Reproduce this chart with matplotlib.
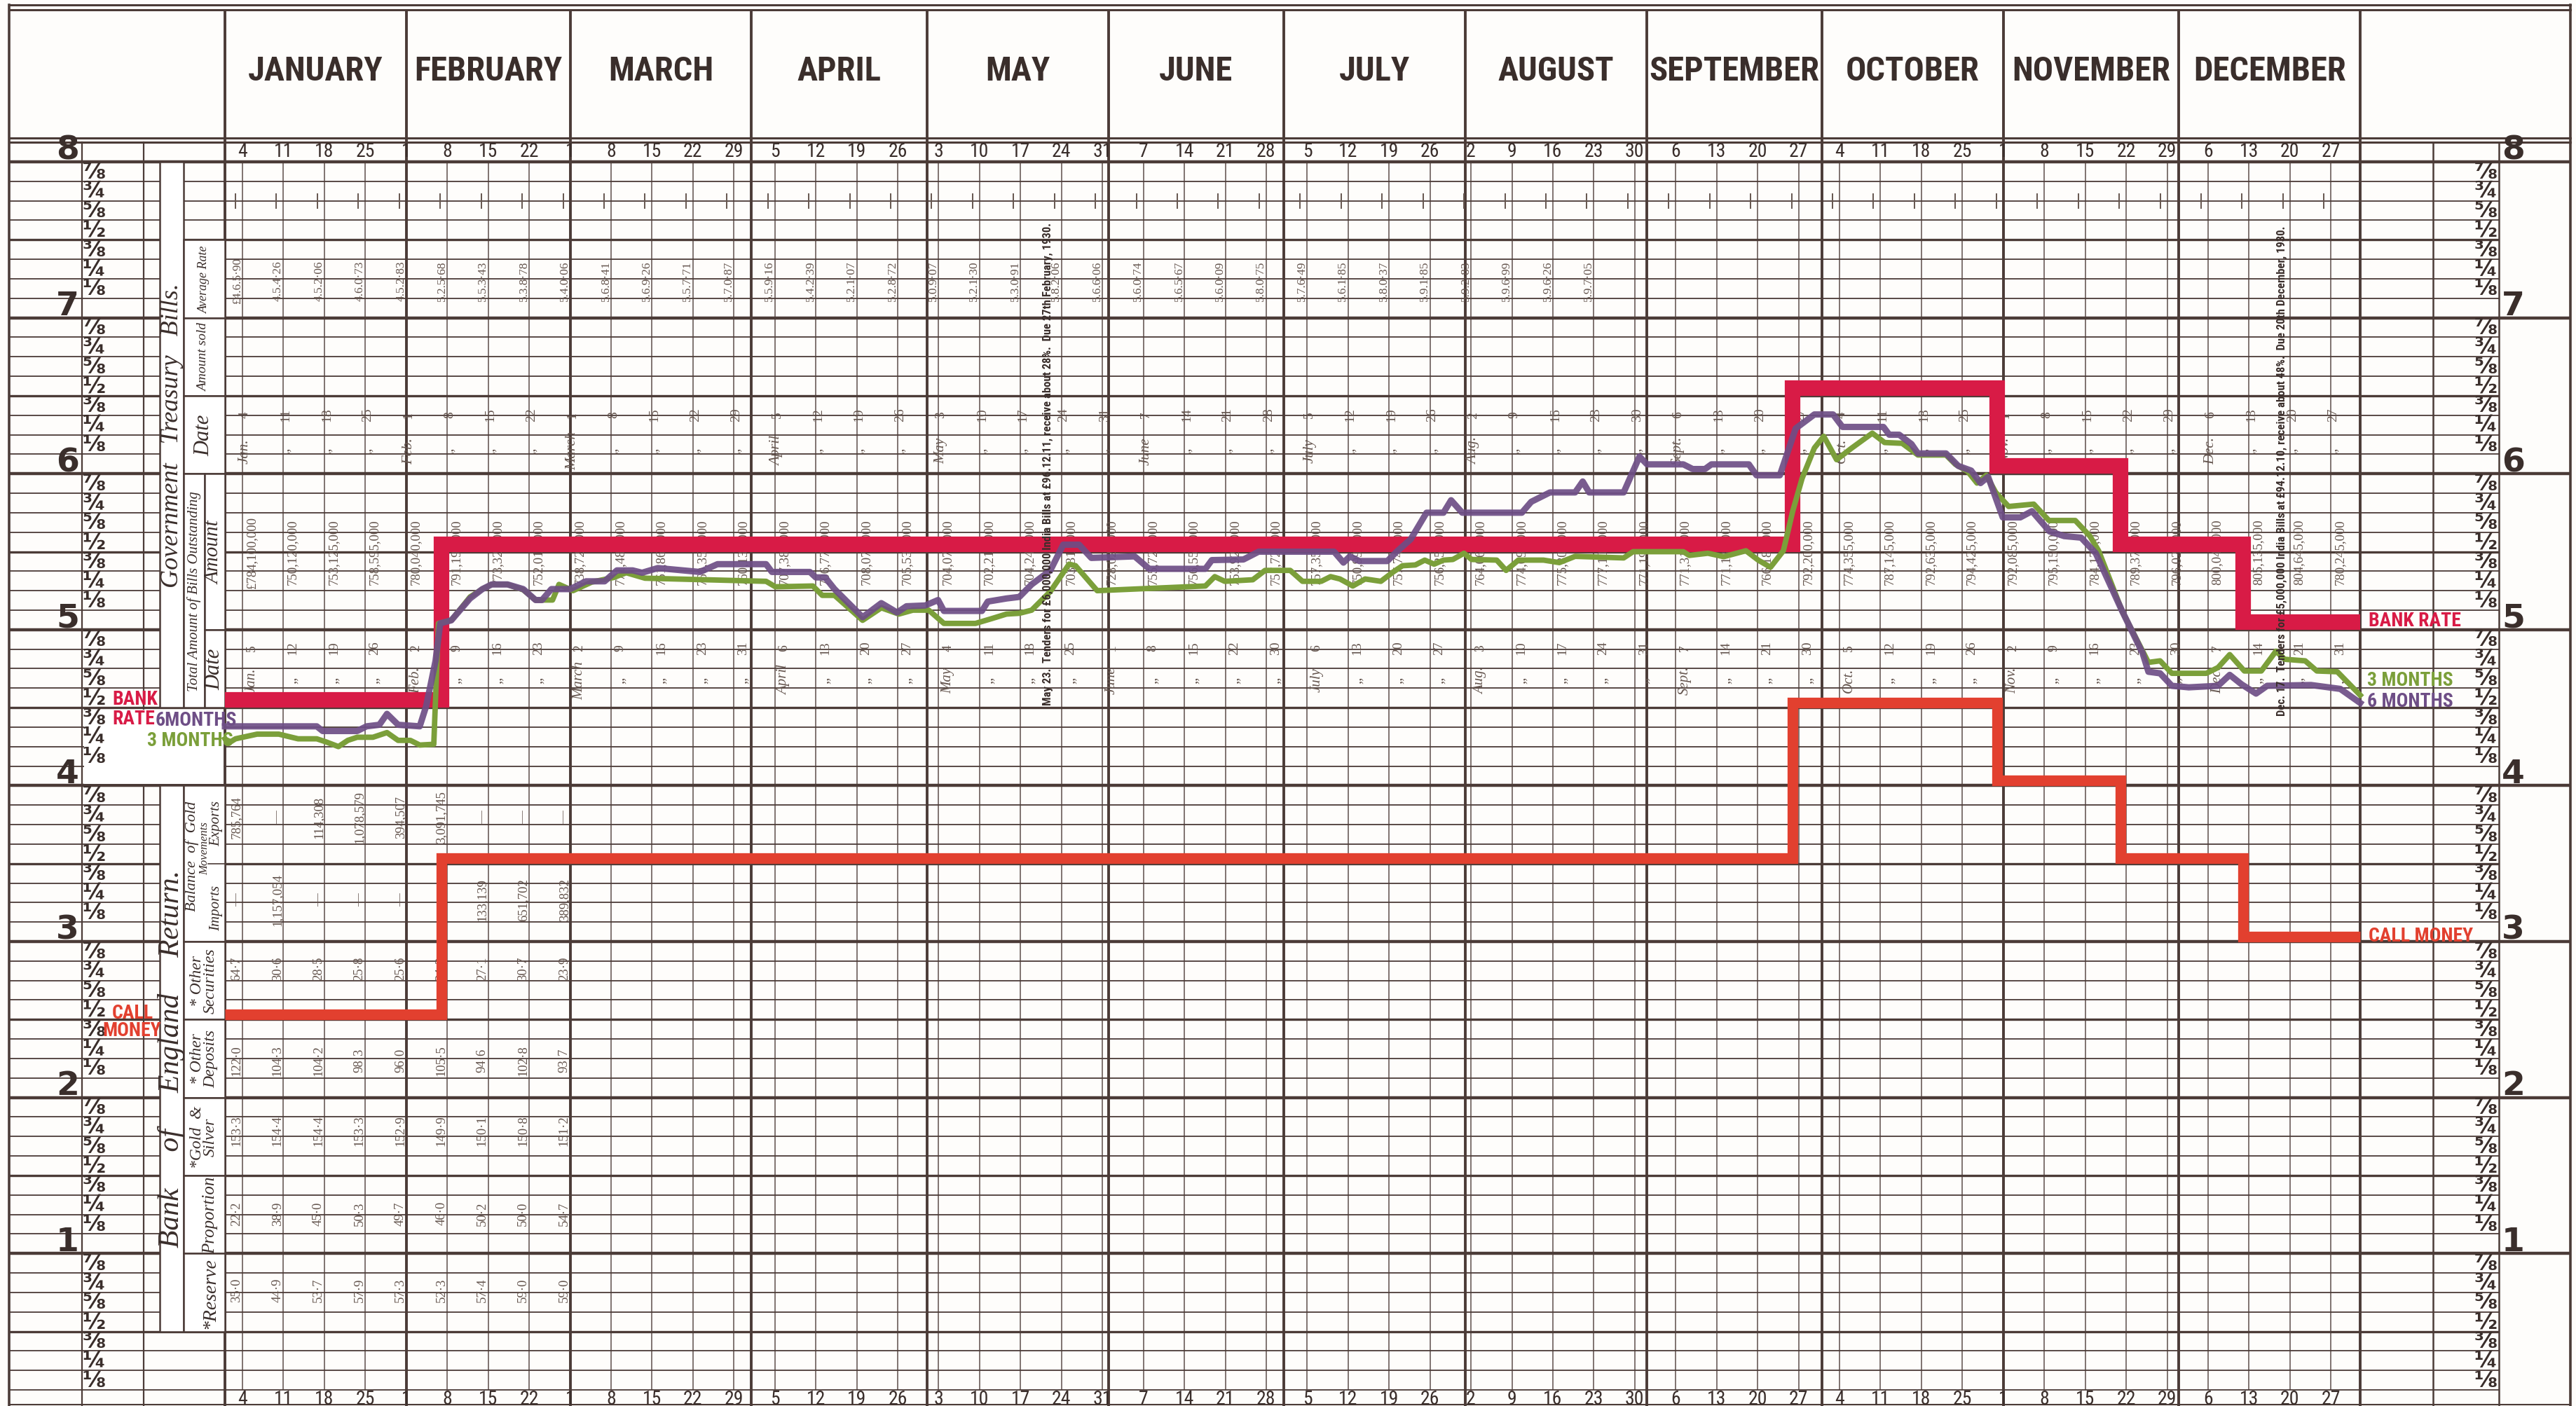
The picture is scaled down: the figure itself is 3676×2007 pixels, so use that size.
import numpy as np
import matplotlib
matplotlib.use('Agg')
import matplotlib.pyplot as plt
import matplotlib.transforms as mtransforms
from matplotlib.patches import Rectangle
from matplotlib import font_manager

# ---------------- data ----------------
months = ['JANUARY', 'FEBRUARY', 'MARCH', 'APRIL', 'MAY', 'JUNE', 'JULY',
          'AUGUST', 'SEPTEMBER', 'OCTOBER', 'NOVEMBER', 'DECEMBER']
month_start = [0, 31, 59, 90, 120, 151, 181, 212, 243, 273, 304, 334, 365]

# friday columns (day of month)
fri_labels = [4, 11, 18, 25, 1, 8, 15, 22, 1, 8, 15, 22, 29, 5, 12, 19, 26,
              3, 10, 17, 24, 31, 7, 14, 21, 28, 5, 12, 19, 26, 2, 9, 16, 23, 30,
              6, 13, 20, 27, 4, 11, 18, 25, 1, 8, 15, 22, 29, 6, 13, 20, 27]
# dates of the outstanding-bills return
sat_labels = [5, 12, 19, 26, 2, 9, 16, 23, 2, 9, 16, 23, 31, 6, 13, 20, 27,
              4, 11, 18, 25, 1, 8, 15, 22, 30, 6, 13, 20, 27, 3, 10, 17, 24, 31,
              7, 14, 21, 30, 5, 12, 19, 26, 2, 9, 16, 23, 30, 7, 14, 21, 31]
tender_months = {0: 'Jan.', 4: 'Feb.', 8: 'March', 13: 'April', 17: 'May',
                 22: 'June', 26: 'July', 30: 'Aug.', 35: 'Sept.', 39: 'Oct.',
                 43: 'Nov.', 48: 'Dec.'}
return_months = {0: 'Jan.', 4: 'Feb.', 8: 'March', 13: 'April', 17: 'May',
                 21: 'June', 26: 'July', 30: 'Aug.', 35: 'Sept.', 39: 'Oct.',
                 43: 'Nov.', 48: 'Dec.'}

# treasury bills table
avg_rate = ['£4.6.5·90', '4.5.4·26', '4.5.2·06', '4.6.0·73', '4.5.2·83', '5.2.5·68',
            '5.5.3·43', '5.3.8·78', '5.4.0·06', '5.6.8·41', '5.6.9·26', '5.5.7·71',
            '5.7.0·87', '5.5.9·16', '5.4.2·39', '5.2.1·07', '5.2.8·72', '5.0.9·07',
            '5.2.1·30', '5.3.0·91', '5.8.2·06', '5.6.6·06', '5.6.0·74', '5.6.5·67',
            '5.6.0·09', '5.8.0·75', '5.7.6·49', '5.6.1·85', '5.8.0·37', '5.9.1·85',
            '5.9.2·83', '5.9.6·99', '5.9.6·26', '5.9.7·05']
total_amount = ['£784,100,000', '750,120,000', '753,125,000', '758,595,000',
                '780,040,000', '791,190,000', '773,325,000', '752,015,000',
                '738,725,000', '771,485,000', '761,860,000', '760,350,000',
                '760,135,000', '707,380,000', '706,770,000', '708,070,000',
                '705,535,000', '704,070,000', '702,210,000', '704,240,000',
                '703,310,000', '728,020,000', '755,720,000', '756,550,000',
                '753,925,000', '757,725,000', '757,355,000', '750,995,000',
                '757,745,000', '756,255,000', '764,065,000', '774,095,000',
                '775,805,000', '777,105,000', '771,190,000', '771,310,000',
                '771,135,000', '766,180,000', '792,200,000', '774,355,000',
                '787,145,000', '792,635,000', '794,425,000', '792,085,000',
                '795,150,000', '784,175,000', '789,370,000', '796,020,000',
                '800,040,000', '805,135,000', '804,645,000', '780,245,000']

# bank of england return (first columns that could be read)
gold_exports = ['785,764', '—', '114,308', '1,078,579', '394,507', '3,091,745', '—', '—', '—']
gold_imports = ['—', '1,157,054', '—', '—', '—', '', '133,139', '651,702', '389,832']
other_securities = ['64·7', '30·6', '28·5', '25·8', '25·6', '24·3', '27·1', '30·7', '23·9']
other_deposits = ['122·0', '104·3', '104·2', '98·3', '96·0', '105·5', '94·6', '102·8', '93·7']
gold_silver = ['153·3', '154·4', '154·4', '153·3', '152·9', '149·9', '150·1', '150·8', '151·2']
proportion = ['22·2', '38·9', '45·0', '50·3', '49·7', '46·0', '50·2', '50·0', '54·7']
reserve = ['35·0', '44·9', '53·7', '57·9', '57·3', '52·3', '57·4', '59·0', '59·0']

notes = ['May 23.  Tenders for £6,000,000 India Bills at £96.12.11, receive about 28%.  '
         'Due 27th February, 1930.',
         'Dec. 17.  Tenders for £5,000,000 India Bills at £94.12.10, receive about 48%.  '
         'Due 20th December, 1930.']

# rate changes (day of year, 1929)
change_day = [0, 37, 268, 303, 324, 345, 365]
bank_rate = [4.5, 5.5, 6.5, 6.0, 5.5, 5.0, 5.0]
call_money = [2.5, 3.5, 4.5, 4.0, 3.5, 3.0, 3.0]

six_day = [0, 15.7, 16.7, 22.6, 24.2, 26.4, 27.7, 29.6, 33.3, 34.4,
           36.0, 36.8, 38.7, 40.3, 41.9, 44.0, 45.6, 48.3, 51.0, 53.1,
           54.2, 55.8, 59.0, 61.7, 64.9, 67.0, 69.7, 71.3, 74.0, 81.2,
           84.2, 92.5, 93.5, 100.0, 101.0, 102.6, 104.2, 109.0, 112.2, 114.9,
           116.5, 119.7, 121.9, 122.9, 129.4, 130.4, 133.6, 135.8, 137.9, 141.1,
           143.3, 146.0, 148.1, 155.5, 158.0, 167.6, 168.7, 174.1, 176.7, 189.6,
           191.2, 192.3, 193.9, 198.7, 200.3, 202.7, 205.4, 208.3, 209.6, 211.5,
           221.7, 223.3, 226.5, 230.8, 232.1, 233.2, 239.1, 241.8, 243.1, 249.3,
           250.9, 253.0, 254.1, 260.5, 261.8, 265.8, 268.5, 271.7, 274.9, 276.5,
           283.5, 284.5, 286.2, 288.3, 289.4, 294.2, 296.3, 298.5, 300.1, 301.4,
           303.9, 306.9, 308.9, 311.9, 314.4, 317.3, 319.8, 324.3, 327.8, 328.8,
           330.8, 332.8, 335.7, 340.7, 342.7, 344.7, 347.2, 349.1, 356.6, 361.6,
           365.0]
six_rate = [4.38, 4.38, 4.35, 4.35, 4.38, 4.39, 4.46, 4.39, 4.38, 4.51,
            4.80, 5.04, 5.06, 5.13, 5.20, 5.26, 5.29, 5.29, 5.26, 5.19,
            5.19, 5.26, 5.26, 5.31, 5.31, 5.38, 5.38, 5.365, 5.395, 5.37,
            5.42, 5.42, 5.37, 5.37, 5.335, 5.335, 5.26, 5.08, 5.17, 5.11,
            5.15, 5.155, 5.19, 5.12, 5.12, 5.18, 5.20, 5.21, 5.29, 5.38,
            5.545, 5.545, 5.46, 5.47, 5.39, 5.39, 5.446, 5.45, 5.50, 5.50,
            5.43, 5.47, 5.44, 5.44, 5.50, 5.58, 5.75, 5.75, 5.83, 5.75,
            5.75, 5.82, 5.88, 5.88, 5.95, 5.88, 5.88, 6.11, 6.06, 6.06,
            6.03, 6.03, 6.06, 6.06, 5.99, 5.99, 6.29, 6.38, 6.38, 6.30,
            6.30, 6.25, 6.25, 6.19, 6.13, 6.13, 6.05, 6.02, 5.94, 5.98,
            5.72, 5.72, 5.76, 5.63, 5.60, 5.59, 5.49, 5.12, 4.85, 4.73,
            4.72, 4.64, 4.63, 4.64, 4.71, 4.65, 4.59, 4.64, 4.645, 4.62,
            4.53]

three_day = [0, 0.5, 1.8, 5.5, 9.2, 12.5, 15.7, 17.3, 19.4, 21.0,
             22.6, 25.3, 27.7, 29.6, 31.7, 33.3, 35.7, 36.5, 38.7, 41.9,
             44.0, 45.6, 48.3, 51.0, 53.1, 56.0, 57.1, 59.5, 62.7, 66.5,
             68.6, 71.8, 92.5, 94.1, 100.5, 102.1, 104.2, 109.0, 112.2, 115.2,
             117.6, 120.3, 122.9, 128.3, 131.0, 133.6, 135.8, 137.9, 141.1, 144.3,
             145.4, 149.1, 167.6, 169.2, 170.9, 175.7, 177.8, 182.1, 184.2, 187.4,
             189.0, 190.6, 192.8, 194.9, 197.6, 199.7, 201.3, 203.5, 205.1, 206.7,
             208.3, 209.9, 211.8, 213.1, 217.4, 219.0, 221.1, 225.4, 228.1, 230.8,
             239.1, 240.7, 249.3, 250.3, 253.5, 256.2, 260.0, 262.1, 264.2, 266.4,
             268.0, 269.6, 271.7, 273.3, 275.5, 278.1, 281.6, 283.7, 286.7, 289.4,
             294.2, 295.8, 297.9, 299.5, 301.1, 302.7, 304.9, 309.2, 311.8, 316.3,
             318.8, 320.3, 324.3, 328.8, 330.8, 332.8, 338.7, 340.7, 342.7, 345.2,
             348.1, 350.6, 352.1, 355.6, 357.6, 361.1, 365.0]
three_rate = [4.30, 4.27, 4.30, 4.33, 4.33, 4.30, 4.30, 4.28, 4.25, 4.29,
              4.31, 4.31, 4.34, 4.29, 4.29, 4.26, 4.265, 5.04, 5.06, 5.21,
              5.26, 5.29, 5.29, 5.255, 5.19, 5.19, 5.29, 5.25, 5.305, 5.335,
              5.365, 5.33, 5.31, 5.275, 5.28, 5.22, 5.22, 5.06, 5.14, 5.10,
              5.125, 5.125, 5.04, 5.04, 5.07, 5.10, 5.105, 5.125, 5.245, 5.42,
              5.41, 5.25, 5.28, 5.34, 5.31, 5.32, 5.38, 5.38, 5.31, 5.31,
              5.34, 5.325, 5.28, 5.325, 5.31, 5.37, 5.41, 5.415, 5.446, 5.42,
              5.446, 5.45, 5.49, 5.45, 5.446, 5.38, 5.446, 5.446, 5.43, 5.47,
              5.46, 5.50, 5.50, 5.476, 5.49, 5.468, 5.506, 5.446, 5.40, 5.506,
              5.76, 5.97, 6.165, 6.24, 6.09, 6.165, 6.26, 6.20, 6.195, 6.12,
              6.12, 6.06, 6.015, 5.94, 5.99, 5.88, 5.79, 5.805, 5.70, 5.70,
              5.60, 5.505, 5.12, 4.79, 4.80, 4.72, 4.72, 4.757, 4.84, 4.735,
              4.735, 4.862, 4.81, 4.80, 4.735, 4.73, 4.58]

frac_text = {1: '⅛', 2: '¼', 3: '⅜', 4: '½', 5: '⅝', 6: '¾', 7: '⅞'}

# ---------------- style ----------------
ink = '#4b3b37'
dark = '#3a2e2b'
faint = '#65564f'
c_bank = '#d81b46'
c_call = '#e2402f'
c_three = '#7b9f3a'
c_six = '#6e4e86'

names = {f.name for f in font_manager.fontManager.ttflist}
if 'Liberation Sans Narrow' in names:
    narrow = dict(family='Liberation Sans Narrow')
elif 'Roboto Condensed' in names:
    narrow = dict(family='Roboto Condensed')
else:
    narrow = dict(family='DejaVu Sans', stretch='condensed')
serif = 'Liberation Serif' if 'Liberation Serif' in names else 'DejaVu Serif'

# pixel helpers for layout of the printed form
def X(px):
    return (px - 321) / 8.348

def Y(py):
    return 8 - (py - 232) / 222.6

fig = plt.figure(figsize=(36.76, 20.08), dpi=100)
fig.patch.set_facecolor('#fefdfb')
ax = fig.add_axes([0, 0, 1, 1])
ax.set_xlim(X(0), X(3676))
ax.set_ylim(Y(2008), Y(0))
ax.axis('off')

fri_x = 3 + 7 * np.arange(len(fri_labels))

# ---------------- grid ----------------
for k in range(1, 65):
    v = k / 8
    if k % 8 == 0:
        lw, x1 = 3.2, X(3668)
    elif k % 4 == 0:
        lw, x1 = 2.4, X(3566)
    else:
        lw, x1 = 1.3, X(3566)
    ax.plot([X(13), x1], [v, v], color=ink, lw=lw, zorder=1, solid_capstyle='butt')

# header rules
for py, lw in [(8, 2.2), (15, 2.2), (198, 2.2), (204, 2.2)]:
    ax.plot([X(13), X(3668)], [Y(py), Y(py)], color=ink, lw=lw, zorder=1)
ax.plot([X(13), X(3668)], [Y(2006), Y(2006)], color=ink, lw=1.5, zorder=1)

# friday lines
ax.vlines(fri_x, 0.125, 8, color=ink, lw=1.1, zorder=1, alpha=0.9)
# month lines
ax.vlines(month_start, Y(2008), Y(15), color=ink, lw=2.8, zorder=1)
# frame / panel lines
for px in [13, 3668]:
    ax.plot([X(px), X(px)], [Y(2008), Y(8)], color=ink, lw=2.6, zorder=1)
for px in [117, 205]:
    ax.plot([X(px), X(px)], [Y(2008), Y(204)], color=ink, lw=1.6, zorder=1)
for px in [3472, 3566]:
    ax.plot([X(px), X(px)], [Y(2008), Y(204)], color=ink, lw=1.8, zorder=1)

# label boxes of the left panel
def box(px0, px1, v0, v1, edge=True):
    r = Rectangle((X(px0), v0), X(px1) - X(px0), v1 - v0, facecolor='white',
                  edgecolor=ink if edge else 'none', lw=1.8, zorder=2)
    ax.add_patch(r)

box(120, 319, 4.012, 4.488, edge=False)
box(228, 262, 4.5, 8.0)
box(228, 262, 0.5, 4.0)
for v0, v1 in [(7.0, 7.5), (6.5, 7.0), (6.0, 6.5)]:
    box(262, 321, v0, v1)
box(262, 292, 4.5, 6.0)
box(292, 321, 5.0, 6.0)
box(292, 321, 4.5, 5.0)
for v0, v1 in [(3.0, 4.0), (2.5, 3.0), (2.0, 2.5), (1.5, 2.0), (1.0, 1.5), (0.5, 1.0)]:
    box(262, 321, v0, v1)
ax.plot([X(297), X(321)], [3.5, 3.5], color=ink, lw=1.2, zorder=3)

# ---------------- header text ----------------
for i, name in enumerate(months):
    mid = (month_start[i] + month_start[i + 1]) / 2
    ax.text(mid, Y(102), name, ha='center', va='center', fontsize=35,
            fontweight='bold', color=dark, zorder=4, **narrow)
for xd, lab in zip(fri_x, fri_labels):
    for py in (217, 1998):
        ax.text(xd, Y(py), str(lab), ha='center', va='center', fontsize=20,
                color=dark, zorder=4, **narrow)

# scale figures
for k in range(1, 65):
    v = k / 8
    if k % 8 == 0:
        ax.text(X(113), v + 0.075, str(k // 8), ha='right', va='center',
                fontsize=34, fontweight='bold', color=dark, zorder=4)
        ax.text(X(3570), v + 0.075, str(k // 8), ha='left', va='center',
                fontsize=34, fontweight='bold', color=dark, zorder=4)
    else:
        f = frac_text[k % 8]
        ax.text(X(134), v + 0.062, f, ha='center', va='center', fontsize=23,
                fontweight='bold', color=dark, zorder=4)
        ax.text(X(3547), v + 0.062, f, ha='center', va='center', fontsize=23,
                fontweight='bold', color=dark, zorder=4)

# rotated panel titles
ax.text(X(245), 6.25, 'Government   Treasury   Bills.', rotation=90, ha='center',
        va='center', fontsize=26, style='italic', family=serif, color=dark, zorder=4)
ax.text(X(245), 2.25, 'Bank     of     England     Return.', rotation=90, ha='center',
        va='center', fontsize=30, style='italic', family=serif, color=dark, zorder=4)
sub_labels = [
    (291, 7.25, 'Average Rate', 13), (291, 6.75, 'Amount sold', 14),
    (291, 6.25, 'Date', 22), (277, 5.25, 'Total Amount of Bills Outstanding', 15),
    (306, 5.5, 'Amount', 21), (306, 4.75, 'Date', 22),
    (274, 3.55, 'Balance  of  Gold', 16), (292, 3.6, 'Movements', 12),
    (309, 3.76, 'Exports', 15), (309, 3.22, 'Imports', 15),
    (291, 2.75, '* Other\nSecurities', 17), (291, 2.25, '* Other\nDeposits', 17),
    (291, 1.75, '*Gold  &\nSilver', 17), (300, 1.25, 'Proportion', 18),
    (300, 0.75, '*Reserve', 20),
]
for px, v, s, fs in sub_labels:
    ax.text(X(px), v, s, rotation=90, ha='center', va='center', fontsize=fs,
            style='italic', family=serif, color=dark, zorder=4, linespacing=0.9)

# ---------------- table entries ----------------
cell = dict(rotation=90, ha='center', va='center', family=serif, color=faint, zorder=5)
for i, xd in enumerate(fri_x):
    ax.text(xd + 0.4, 6.38, str(fri_labels[i]), fontsize=14, **cell)
    ax.text(xd + 0.4, 6.15, tender_months.get(i, ',,'), fontsize=15, style='italic', **cell)
    ax.text(xd + 1.6, 4.886, str(sat_labels[i]), fontsize=14, **cell)
    ax.text(xd + 1.6, 4.68, return_months.get(i, ',,'), fontsize=15, style='italic', **cell)
    ax.text(xd + 1.6, 5.50, total_amount[i], fontsize=13.5, **cell)
for i, s in enumerate(avg_rate):
    ax.text(fri_x[i] - 0.9, 7.24, s, fontsize=12.5, **cell)
ax.vlines(fri_x - 1.2, 7.70, 7.80, color=faint, lw=1.4, zorder=5)

bank_rows = [(gold_exports, 3.80), (gold_imports, 3.27), (other_securities, 2.83),
             (other_deposits, 2.24), (gold_silver, 1.79), (proportion, 1.26),
             (reserve, 0.77)]
for row, v in bank_rows:
    for i, s in enumerate(row):
        ax.text(fri_x[i] - 1.0, v, s, fontsize=13.5, **cell)

# notes printed across the chart
ax.text(X(1495), 4.52, notes[0], rotation=90, ha='center', va='bottom', fontsize=12,
        fontweight='bold', color=dark, zorder=9, **narrow)
ax.text(X(3256), 4.45, notes[1], rotation=90, ha='center', va='bottom', fontsize=12,
        fontweight='bold', color=dark, zorder=9, **narrow)

# ---------------- rate lines ----------------
lift_bank = mtransforms.offset_copy(ax.transData, fig=fig, y=11, units='dots')
lift_call = mtransforms.offset_copy(ax.transData, fig=fig, y=7.5, units='dots')
ax.step(change_day, call_money, where='post', color=c_call, lw=11,
        transform=lift_call, solid_joinstyle='miter', solid_capstyle='butt', zorder=6)
ax.step(change_day, bank_rate, where='post', color=c_bank, lw=16,
        transform=lift_bank, solid_joinstyle='miter', solid_capstyle='butt', zorder=6)
ax.plot(three_day, three_rate, color=c_three, lw=5.6, zorder=7,
        solid_joinstyle='round')
ax.plot(six_day, six_rate, color=c_six, lw=6.5, zorder=8, alpha=0.92,
        solid_joinstyle='round')

# series labels
lab = dict(fontsize=20, fontweight='bold', zorder=9, va='center', **narrow)
ax.text(X(3380), 5.06, 'BANK RATE', color=c_bank, ha='left', **lab)
ax.text(X(3380), 3.04, 'CALL MONEY', color=c_call, ha='left', **lab)
ax.text(X(3378), 4.68, '3 MONTHS', color=c_three, ha='left', **lab)
ax.text(X(3378), 4.545, '6 MONTHS', color=c_six, ha='left', **lab)
ax.text(X(160), 4.556, 'BANK', color=c_bank, ha='left', **lab)
ax.text(X(160), 4.43, 'RATE', color=c_bank, ha='left', **lab)
ax.text(X(222), 4.42, '6MONTHS', color=c_six, ha='left', **lab)
ax.text(X(210), 4.29, '3 MONTHS', color=c_three, ha='left', **lab)
ax.text(X(160), 2.545, 'CALL', color=c_call, ha='left', **lab)
ax.text(X(146), 2.43, 'MONEY', color=c_call, ha='left', **lab)

fig.savefig('out.png', dpi=100, facecolor=fig.get_facecolor())
